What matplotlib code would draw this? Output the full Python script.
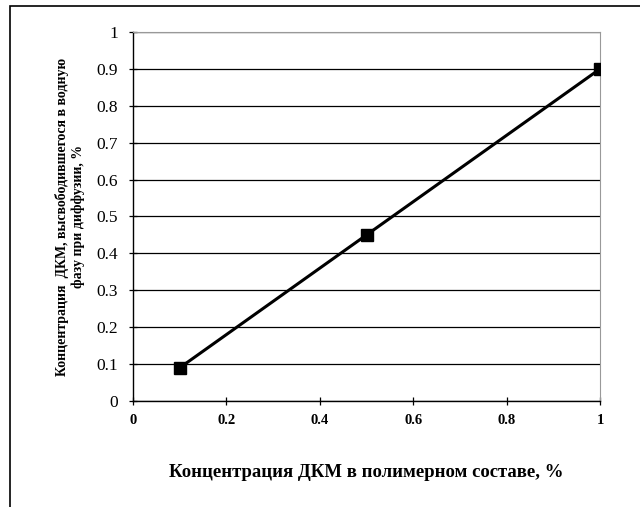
import matplotlib.pyplot as plt
from matplotlib.patches import Rectangle

# data
conc_polymer = [0.1, 0.5, 1.0]
conc_released = [0.09, 0.45, 0.9]
x_ticks = [0, 0.2, 0.4, 0.6, 0.8, 1]
x_tick_labels = ['0', '0.2', '0.4', '0.6', '0.8', '1']
y_ticks = [0, 0.1, 0.2, 0.3, 0.4, 0.5, 0.6, 0.7, 0.8, 0.9, 1]
y_tick_labels = ['0', '0.1', '0.2', '0.3', '0.4', '0.5', '0.6', '0.7', '0.8', '0.9', '1']

plt.rcParams['font.family'] = ['Liberation Serif', 'DejaVu Serif']

fig = plt.figure(figsize=(6.4, 5.07), dpi=100)
# outer frame
fig.add_artist(Rectangle((10 / 640, -0.05), 1.0, 1 - 6 / 507 + 0.05,
                         transform=fig.transFigure, fill=False,
                         edgecolor='black', linewidth=1.2))

ax = fig.add_axes([133 / 640, 106 / 507, 467 / 640, 369 / 507])
ax.plot(conc_polymer, conc_released, color='black', linewidth=2.2,
        marker='s', markersize=8, zorder=3)

ax.set_xlim(0, 1)
ax.set_ylim(0, 1)
ax.set_xticks(x_ticks)
ax.set_xticklabels(x_tick_labels, fontsize=10.5, fontweight='bold')
ax.set_yticks(y_ticks)
ax.set_yticklabels(y_tick_labels, fontsize=12.5)
ax.yaxis.grid(True, color='black', linewidth=0.9)
ax.tick_params(axis='both', direction='inout', length=6, width=0.9)
ax.tick_params(axis='x', pad=6)
ax.tick_params(axis='y', pad=8)

for side in ['left', 'bottom']:
    ax.spines[side].set_linewidth(1.0)
for side in ['top', 'right']:
    ax.spines[side].set_color('#999999')
    ax.spines[side].set_linewidth(0.8)

ax.set_xlabel('Концентрация ДКМ в полимерном составе, %', fontsize=13.5,
              fontweight='bold', labelpad=27)
ax.set_ylabel('Концентрация  ДКМ, высвободившегося в водную\nфазу при диффузии, %',
              fontsize=10, fontweight='bold', labelpad=8)

plt.savefig('out.png', dpi=100)
